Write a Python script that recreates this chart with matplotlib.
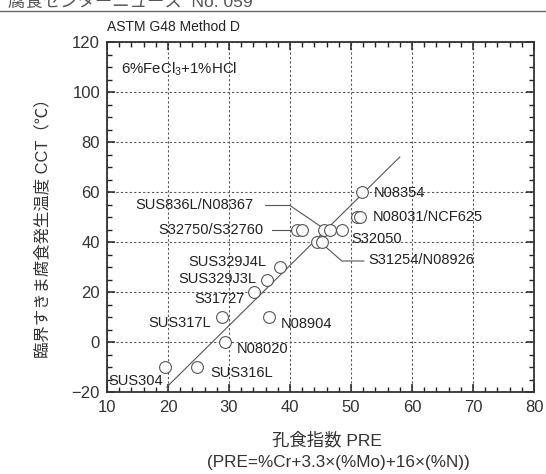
import numpy as np
import matplotlib
matplotlib.use('Agg')
import matplotlib.pyplot as plt
from matplotlib.ticker import MultipleLocator

plt.rcParams['font.family'] = ['Liberation Sans', 'Noto Sans CJK JP', 'DejaVu Sans']
plt.rcParams['mathtext.fontset'] = 'custom'
plt.rcParams['mathtext.rm'] = 'Liberation Sans'

# measured points (PRE, CCT)
pre = [19.5, 24.7, 28.8, 29.3, 34.1, 36.3, 38.4, 36.6, 41.1, 41.9,
       45.6, 46.6, 48.6, 44.4, 45.2, 51.8, 51.0, 51.5]
cct = [-10, -10, 10, 0, 20, 25, 30, 10, 45, 45,
       45, 45, 45, 40, 40, 60, 50, 50]

# regression line end points
fit_x = [19.8, 58.0]
fit_y = [-18.0, 74.0]

labels = ['SUS304', 'SUS316L', 'N08020', 'SUS317L', 'N08904', 'S31727',
          'SUS329J3L', 'SUS329J4L', 'SUS836L/N08367', 'S32750/S32760',
          'N08354', 'N08031/NCF625', 'S32050', 'S31254/N08926']
# text anchor (x, y, horizontal alignment)
label_pos = [(10.2, -15.6, 'left'), (26.9, -12.5, 'left'), (31.3, -2.8, 'left'),
             (27.0, 7.5, 'right'), (38.5, 7.1, 'left'), (32.6, 17.2, 'right'),
             (34.5, 25.2, 'right'), (36.2, 32.1, 'right'), (34.0, 54.8, 'right'),
             (35.6, 44.8, 'right'), (53.8, 59.5, 'left'), (53.6, 49.9, 'left'),
             (50.0, 41.1, 'left'), (52.8, 32.8, 'left')]

# leader lines
leaders = [([36.0, 40.0, 45.4], [54.6, 54.6, 45.6]),
           ([37.0, 40.3], [44.8, 44.8]),
           ([45.5, 48.5, 52.1], [38.8, 32.4, 32.4])]

fig = plt.figure(figsize=(5.46, 4.74), dpi=100)
ax = fig.add_axes([107/546, 1-392/474, (534-107)/546, (392-42)/474])

ax.plot(fit_x, fit_y, color='#555555', lw=0.8, zorder=2)
ax.plot(pre, cct, 'o', ms=8.5, mfc='white', mec='#444444', mew=0.8,
        linestyle='none', zorder=3, alpha=0.9)
for lx, ly in leaders:
    ax.plot(lx, ly, color='#555555', lw=0.8, zorder=2)
for t, (x, y, ha) in zip(labels, label_pos):
    ax.text(x, y, t, ha=ha, va='center', fontsize=10.5, color='#222222', zorder=4)

ax.text(12.3, 109, r'6%FeCl$_3$+1%HCl', fontsize=10.8, color='#222222',
        va='center', ha='left')

ax.set_xlim(10, 80)
ax.set_ylim(-20, 120)
ax.xaxis.set_major_locator(MultipleLocator(10))
ax.xaxis.set_minor_locator(MultipleLocator(2))
ax.yaxis.set_major_locator(MultipleLocator(20))
ax.yaxis.set_minor_locator(MultipleLocator(5))
ax.tick_params(which='both', direction='in', top=True, right=True,
               colors='#222222', labelcolor='#333333', labelsize=12)
ax.tick_params(which='major', length=6, width=1.1)
ax.tick_params(which='minor', length=3.5, width=1.0)
ax.tick_params(axis='x', pad=6)
ax.tick_params(axis='y', pad=5)
ax.grid(True, which='major', color='#555555', lw=0.8, linestyle=(0, (2, 2)))
for s in ax.spines.values():
    s.set_linewidth(1.3)
    s.set_color('#333333')

fig.text(107/546, 1-27/474, 'ASTM G48 Method D', fontsize=10, color='#222222',
         ha='left', va='center')
fig.text(42/546, 1-224/474, '臨界すきま腐食発生温度 CCT（℃）', rotation=90,
         fontsize=11.8, color='#333333', ha='center', va='center')
fig.text(327/546, 1-440/474, '孔食指数 PRE', fontsize=12.5, color='#333333',
         ha='center', va='center')
fig.text(338/546, 1-463/474, '(PRE=%Cr+3.3×(%Mo)+16×(%N))', fontsize=12.3,
         color='#333333', ha='center', va='center')

# page header, cut at top
fig.text(8/546, 1-7/474, '腐食センターニュース  No. 059', fontsize=12.5,
         color='#555555', ha='left', va='baseline')
fig.add_artist(plt.Line2D([0, 1], [1-10.5/474, 1-10.5/474], color='#666666', lw=1.0))

fig.savefig('out.png', dpi=100)
